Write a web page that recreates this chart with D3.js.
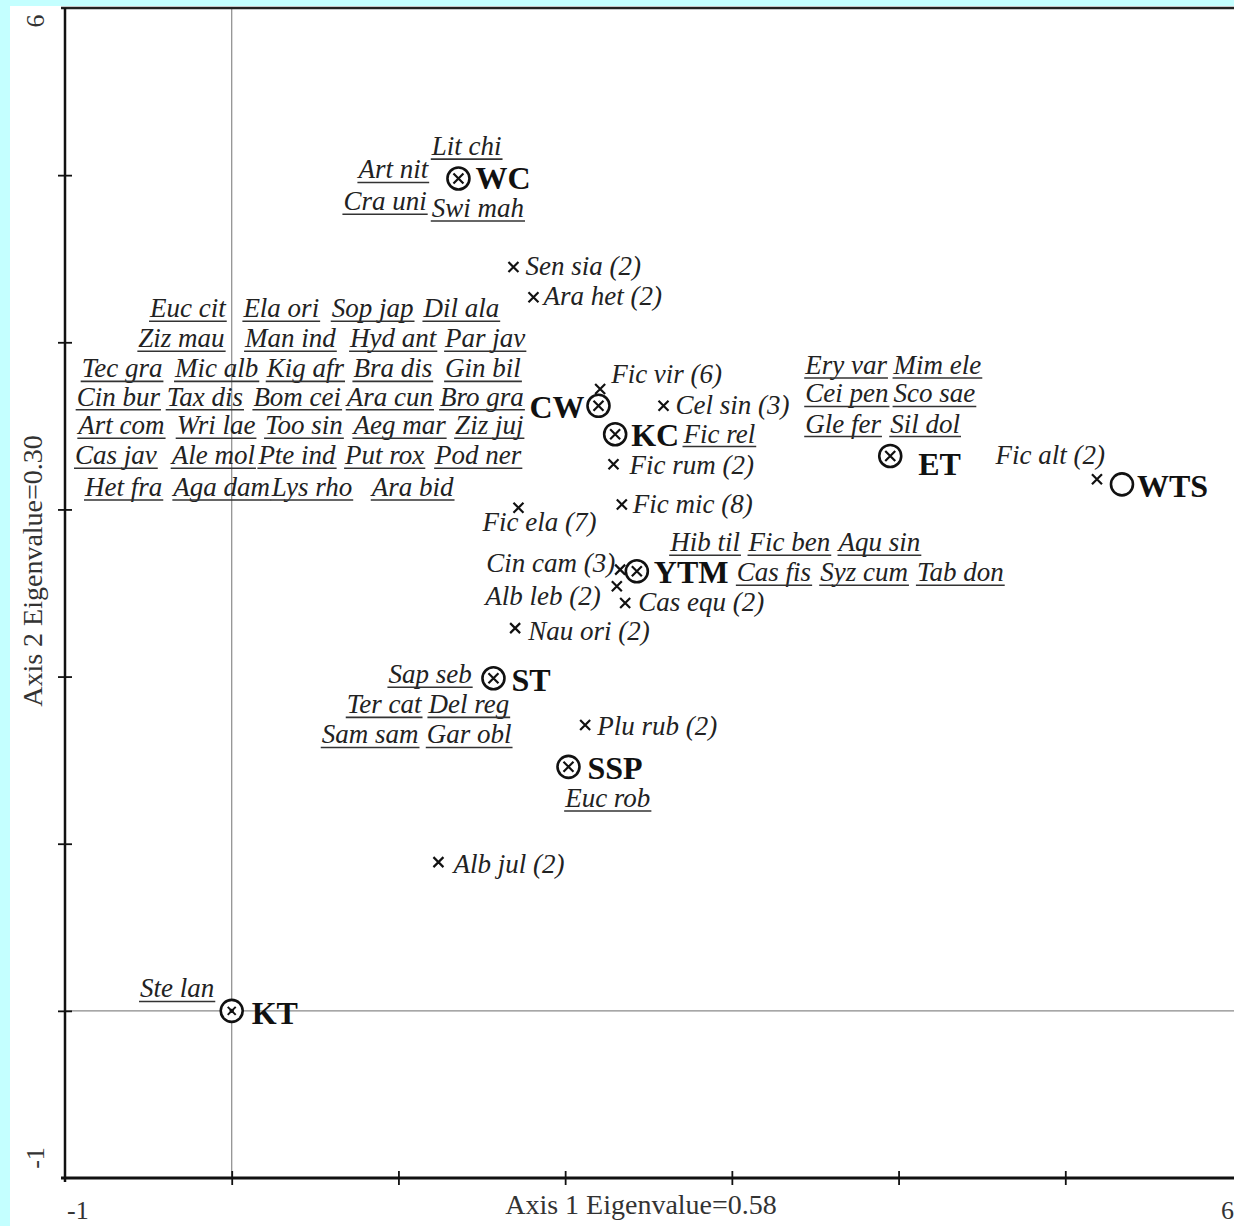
<!DOCTYPE html>
<html>
<head>
<meta charset="utf-8">
<script src="https://cdn.jsdelivr.net/npm/d3@7"></script>
<style>
  body { margin: 0; background: #c4ffff; }
  svg { display: block; }
</style>
</head>
<body>
<svg id="chart" width="1234" height="1226"></svg>
<script>
// Sites (ordination scores)
const siteNames = ["WC", "CW", "KC", "ET", "WTS", "YTM", "ST", "SSP", "KT"];
const siteX = [1.36, 2.20, 2.30, 3.95, 5.34, 2.43, 1.57, 2.02, 0.00];
const siteY = [4.98, 3.62, 3.45, 3.32, 3.15, 2.63, 1.99, 1.46, 0.00];

// Shared species (shown with a cross)
const speciesNames = ["Sen sia (2)", "Ara het (2)", "Fic vir (6)", "Cel sin (3)", "Fic rum (2)",
  "Fic mic (8)", "Fic ela (7)", "Cin cam (3)", "Alb leb (2)", "Cas equ (2)", "Nau ori (2)",
  "Plu rub (2)", "Alb jul (2)", "Fic alt (2)"];
const speciesX = [1.69, 1.81, 2.21, 2.59, 2.29, 2.34, 1.72, 2.33, 2.31, 2.36, 1.70, 2.12, 1.24, 5.19];
const speciesY = [4.45, 4.27, 3.72, 3.62, 3.27, 3.03, 3.01, 2.64, 2.54, 2.44, 2.29, 1.71, 0.89, 3.18];

// Species found at one site only (underlined names)
const uniqueNames = [
  "Lit chi", "Art nit", "Cra uni", "Swi mah",
  "Euc cit", "Ela ori", "Sop jap", "Dil ala",
  "Ziz mau", "Man ind", "Hyd ant", "Par jav",
  "Tec gra", "Mic alb", "Kig afr", "Bra dis", "Gin bil",
  "Cin bur", "Tax dis", "Bom cei", "Ara cun", "Bro gra",
  "Art com", "Wri lae", "Too sin", "Aeg mar", "Ziz juj",
  "Cas jav", "Ale mol", "Pte ind", "Put rox", "Pod ner",
  "Het fra", "Aga dam", "Lys rho", "Ara bid",
  "Fic rel",
  "Ery var", "Mim ele", "Cei pen", "Sco sae", "Gle fer", "Sil dol",
  "Hib til", "Fic ben", "Aqu sin", "Cas fis", "Syz cum", "Tab don",
  "Sap seb", "Ter cat", "Del reg", "Sam sam", "Gar obl",
  "Euc rob", "Ste lan"];
const uniqueX = [
  1.20, 0.76, 0.67, 1.20,
  -0.49, 0.07, 0.60, 1.15,
  -0.56, 0.08, 0.71, 1.28,
  -0.90, -0.34, 0.21, 0.73, 1.28,
  -0.93, -0.39, 0.13, 0.69, 1.25,
  -0.92, -0.33, 0.20, 0.73, 1.34,
  -0.94, -0.36, 0.16, 0.68, 1.22,
  -0.88, -0.35, 0.24, 0.84,
  2.71,
  3.44, 3.97, 3.44, 3.97, 3.44, 3.95,
  2.63, 3.10, 3.64, 3.03, 3.53, 4.11,
  0.94, 0.69, 1.18, 0.54, 1.17,
  2.00, -0.55];
const uniqueY = [
  5.12, 4.98, 4.79, 4.75,
  4.15, 4.15, 4.15, 4.15,
  3.97, 3.97, 3.97, 3.97,
  3.79, 3.79, 3.79, 3.79, 3.79,
  3.62, 3.62, 3.62, 3.62, 3.62,
  3.45, 3.45, 3.45, 3.45, 3.45,
  3.27, 3.27, 3.27, 3.27, 3.27,
  3.08, 3.08, 3.08, 3.08,
  3.40,
  3.81, 3.81, 3.64, 3.64, 3.46, 3.46,
  2.75, 2.75, 2.75, 2.57, 2.57, 2.57,
  1.96, 1.78, 1.78, 1.60, 1.60,
  1.22, 0.08];

const axisTicks = [0, 1, 2, 3, 4, 5];
const xTitle = "Axis 1 Eigenvalue=0.58";
const yTitle = "Axis 2 Eigenvalue=0.30";

// label offsets (px) for the crossed species
const spLabel = {
  "Sen sia (2)": [12, 8, "start"], "Ara het (2)": [10, 8, "start"],
  "Fic vir (6)": [11, -6, "start"], "Cel sin (3)": [12, 8, "start"],
  "Fic rum (2)": [16, 10, "start"], "Fic mic (8)": [11, 9, "start"],
  "Fic ela (7)": [-36, 23, "start"], "Cin cam (3)": [-5, 2, "end"],
  "Alb leb (2)": [-16, 19, "end"], "Cas equ (2)": [13, 8, "start"],
  "Nau ori (2)": [13, 12, "start"], "Plu rub (2)": [12, 10, "start"],
  "Alb jul (2)": [15, 11, "start"], "Fic alt (2)": [8, -15, "end"]
};
const siteLabel = {
  WC: [17, 11, "start"], CW: [-14, 12, "end"], KC: [16, 12, "start"],
  ET: [28, 19, "start"], WTS: [15, 13, "start"], YTM: [17, 12, "start"],
  ST: [18, 13, "start"], SSP: [19, 12, "start"], KT: [20, 13, "start"]
};

const svg = d3.select("#chart");
const serif = "'Liberation Serif', 'Times New Roman', serif";
const labelSize = 27;

const x = d3.scaleLinear().domain([-1, 6]).range([65, 1232]);
const y = d3.scaleLinear().domain([-1, 6]).range([1178, 8]);

svg.append("rect").attr("x", 10).attr("y", 6).attr("width", 1224).attr("height", 1220).attr("fill", "white");

// zero lines
svg.append("line").attr("x1", x(0)).attr("x2", x(0)).attr("y1", y(6)).attr("y2", y(-1))
  .attr("stroke", "#8a8a8a").attr("stroke-width", 1.2);
svg.append("line").attr("x1", x(-1)).attr("x2", 1234).attr("y1", y(0)).attr("y2", y(0))
  .attr("stroke", "#8a8a8a").attr("stroke-width", 1.2);

// frame
svg.append("line").attr("x1", x(-1) - 4).attr("x2", 1234).attr("y1", y(6)).attr("y2", y(6))
  .attr("stroke", "#222").attr("stroke-width", 2.5);

const gx = svg.append("g").attr("transform", `translate(0,${y(-1)})`)
  .call(d3.axisBottom(x).tickValues(axisTicks).tickSize(7).tickFormat(""));
const gy = svg.append("g").attr("transform", `translate(${x(-1)},0)`)
  .call(d3.axisLeft(y).tickValues(axisTicks).tickSize(7).tickFormat(""));
gx.select(".domain").attr("d", `M${x(-1) - 4},0H1234`).attr("stroke", "#111").attr("stroke-width", 3);
gy.select(".domain").attr("d", `M0,${y(6)}V${y(-1) + 4}`).attr("stroke", "#111").attr("stroke-width", 2.5);
gx.selectAll(".tick line").attr("y1", -7).attr("y2", 7).attr("stroke", "#111").attr("stroke-width", 1.8);
gy.selectAll(".tick line").attr("x1", -7).attr("x2", 7).attr("stroke", "#111").attr("stroke-width", 1.8);

// tick labels at the ends only
svg.append("text").attr("x", x(-1) + 2).attr("y", 1219).text("-1")
  .attr("font-family", serif).attr("font-size", 26).attr("fill", "#333");
svg.append("text").attr("x", 1234).attr("y", 1219).attr("text-anchor", "end").text("6")
  .attr("font-family", serif).attr("font-size", 26).attr("fill", "#333");
svg.append("text").attr("transform", `translate(44,${y(6) + 13}) rotate(-90)`).attr("text-anchor", "middle")
  .text("6").attr("font-family", serif).attr("font-size", 26).attr("fill", "#333");
svg.append("text").attr("transform", `translate(44,${y(-1) - 20}) rotate(-90)`).attr("text-anchor", "middle")
  .text("-1").attr("font-family", serif).attr("font-size", 26).attr("fill", "#333");

// axis titles
svg.append("text").attr("x", 641).attr("y", 1214).attr("text-anchor", "middle").text(xTitle)
  .attr("font-family", serif).attr("font-size", 28).attr("fill", "#333");
svg.append("text").attr("transform", "translate(42,571) rotate(-90)").attr("text-anchor", "middle").text(yTitle)
  .attr("font-family", serif).attr("font-size", 28).attr("fill", "#333");

// underlined unique species
const uniq = svg.append("g");
uniqueNames.forEach((n, i) => {
  const t = uniq.append("text").attr("x", x(uniqueX[i])).attr("y", y(uniqueY[i])).text(n)
    .attr("font-family", serif).attr("font-style", "italic").attr("font-size", labelSize).attr("fill", "#222");
  const w = t.node().getComputedTextLength();
  uniq.append("line").attr("x1", x(uniqueX[i]) - 1).attr("x2", x(uniqueX[i]) + w + 1)
    .attr("y1", y(uniqueY[i]) + 4).attr("y2", y(uniqueY[i]) + 4)
    .attr("stroke", "#333").attr("stroke-width", 1.6);
});

// crossed species
const cross = (g, cx, cy, r, sw) => {
  g.append("path").attr("d", `M${cx - r},${cy - r}L${cx + r},${cy + r}M${cx - r},${cy + r}L${cx + r},${cy - r}`)
    .attr("stroke", "#111").attr("stroke-width", sw).attr("fill", "none");
};
const sp = svg.append("g");
speciesNames.forEach((n, i) => {
  const cx = x(speciesX[i]), cy = y(speciesY[i]);
  cross(sp, cx, cy, 5, 2.2);
  const o = spLabel[n];
  sp.append("text").attr("x", cx + o[0]).attr("y", cy + o[1]).attr("text-anchor", o[2]).text(n)
    .attr("font-family", serif).attr("font-style", "italic").attr("font-size", labelSize).attr("fill", "#222");
});

// sites
const st = svg.append("g");
siteNames.forEach((n, i) => {
  const cx = x(siteX[i]), cy = y(siteY[i]);
  st.append("circle").attr("cx", cx).attr("cy", cy).attr("r", 11)
    .attr("fill", "white").attr("stroke", "#111").attr("stroke-width", 2.6);
  if (n === "KT") {
    cross(st, cx, cy, 4, 2);
    st.append("circle").attr("cx", cx).attr("cy", cy).attr("r", 2.2).attr("fill", "#111");
  } else if (n !== "WTS") {
    cross(st, cx, cy, 5, 2.2);
  }
  const o = siteLabel[n];
  st.append("text").attr("x", cx + o[0]).attr("y", cy + o[1]).attr("text-anchor", o[2]).text(n)
    .attr("font-family", serif).attr("font-weight", "bold").attr("font-size", 32).attr("fill", "#111");
});
</script>
</body>
</html>
